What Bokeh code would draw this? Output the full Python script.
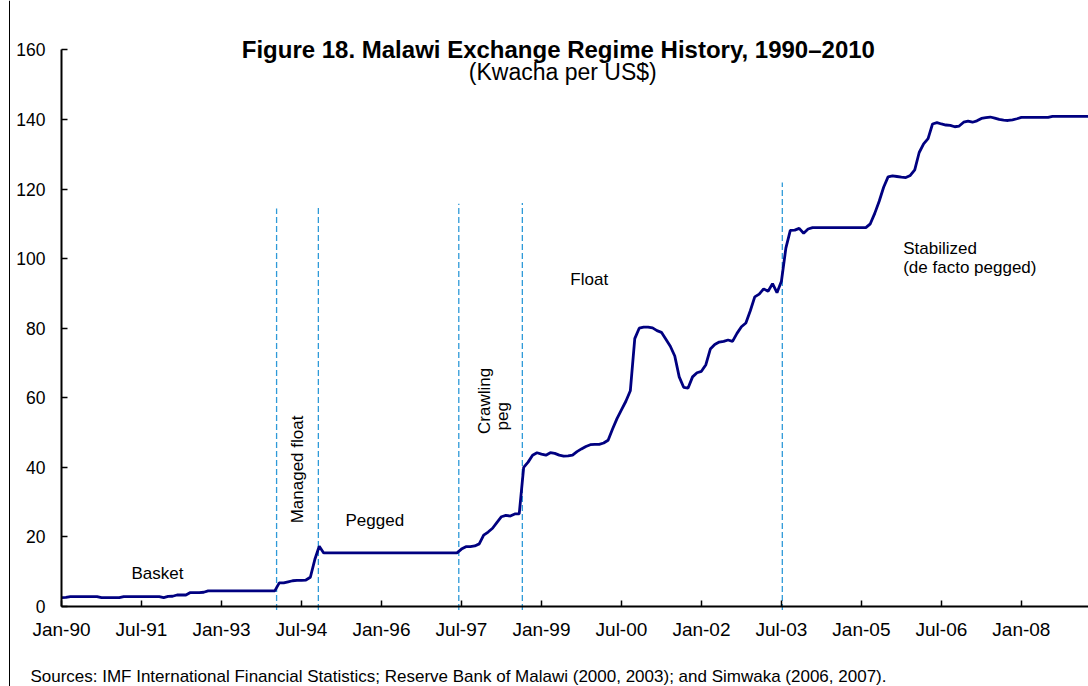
from math import pi
from bokeh.plotting import figure
from bokeh.models import FixedTicker, Label, Range1d, Span
from bokeh.embed import file_html
from bokeh.resources import INLINE

# Monthly Kwacha per US$, Jan-1990 onwards
rate_1990 = [2.55, 2.6, 2.85, 2.85, 2.85, 2.85, 2.85, 2.85, 2.85, 2.55, 2.55, 2.55]
rate_1991 = [2.55, 2.55, 2.85, 2.85, 2.85, 2.85, 2.85, 2.85, 2.85, 2.85, 2.85, 2.55]
rate_1992 = [2.9, 2.95, 3.3, 3.3, 3.3, 4.0, 4.0, 4.0, 4.1, 4.5, 4.5, 4.5]
rate_1993 = [4.5, 4.5, 4.5, 4.5, 4.5, 4.5, 4.5, 4.5, 4.5, 4.5, 4.5, 4.5]
rate_1994 = [4.5, 6.8, 6.8, 7.1, 7.4, 7.5, 7.5, 7.6, 8.4, 13.5, 17.3, 15.4]
rate_1995 = [15.4, 15.4, 15.4, 15.4, 15.4, 15.4, 15.4, 15.4, 15.4, 15.4, 15.4, 15.4]
rate_1996 = [15.4, 15.4, 15.4, 15.4, 15.4, 15.4, 15.4, 15.4, 15.4, 15.4, 15.4, 15.4]
rate_1997 = [15.4, 15.4, 15.4, 15.4, 15.4, 15.4, 16.5, 17.2, 17.2, 17.4, 18.0, 20.5]
rate_1998 = [21.4, 22.5, 24.2, 25.8, 26.2, 26.0, 26.6, 26.6, 40.0, 41.5, 43.5, 44.2]
rate_1999 = [43.8, 43.5, 44.2, 44.0, 43.5, 43.2, 43.3, 43.5, 44.5, 45.3, 46.0, 46.5]
rate_2000 = [46.6, 46.6, 47.0, 47.8, 51.0, 54.0, 56.5, 59.0, 62.0, 77.0, 80.0, 80.3]
rate_2001 = [80.3, 80.1, 79.3, 78.8, 76.8, 74.8, 72.0, 66.0, 63.0, 62.8, 66.0, 67.2]
rate_2002 = [67.6, 69.5, 74.0, 75.3, 76.0, 76.2, 76.6, 76.2, 78.5, 80.4, 81.5, 85.0]
rate_2003 = [89.0, 89.8, 91.3, 90.6, 92.8, 90.2, 93.5, 103.0, 108.1, 108.2, 108.7, 107.3]
rate_2004 = [108.5, 108.9, 108.9, 108.9, 108.9, 108.9, 108.9, 108.9, 108.9, 108.9, 108.9, 108.9]
rate_2005 = [108.9, 108.9, 110.0, 113.0, 116.5, 120.5, 123.5, 123.8, 123.6, 123.4, 123.3, 123.9]
rate_2006 = [125.5, 130.5, 133.0, 134.5, 138.7, 139.1, 138.7, 138.4, 138.3, 137.9, 138.1, 139.2]
rate_2007 = [139.5, 139.2, 139.6, 140.3, 140.5, 140.7, 140.4, 140.0, 139.8, 139.7, 139.9, 140.2]
rate_2008 = [140.6, 140.6, 140.6, 140.6, 140.6, 140.6, 140.6, 140.9, 140.9, 140.9, 140.9, 140.9]
rate_2009 = [140.9, 140.9, 140.9, 140.9]

rates = (rate_1990 + rate_1991 + rate_1992 + rate_1993 + rate_1994 + rate_1995 +
         rate_1996 + rate_1997 + rate_1998 + rate_1999 + rate_2000 + rate_2001 +
         rate_2002 + rate_2003 + rate_2004 + rate_2005 + rate_2006 + rate_2007 +
         rate_2008 + rate_2009)
months = list(range(len(rates)))  # months since Jan-1990

# Regime boundaries (months since Jan-1990) and top of each dashed marker
regime_breaks = [48.4, 57.8, 89.4, 103.7, 162.2]
regime_tops = [114.4, 114.6, 115.8, 116.0, 121.9]

tick_months = [0, 18, 36, 54, 72, 90, 108, 126, 144, 162, 180, 198, 216]
tick_labels = ["Jan-90", "Jul-91", "Jan-93", "Jul-94", "Jan-96", "Jul-97", "Jan-99",
               "Jul-00", "Jan-02", "Jul-03", "Jan-05", "Jul-06", "Jan-08"]
y_ticks = [0, 20, 40, 60, 80, 100, 120, 140, 160]

FONT = "Liberation Sans"

# frame covers the whole canvas; axes are pinned at x=0 / y=0
p = figure(width=1088, height=686, output_backend="svg", toolbar_location=None,
           x_range=Range1d(-13.726, 231.1), y_range=Range1d(-22.995, 174.19),
           min_border_left=0, min_border_right=0, min_border_top=0,
           min_border_bottom=0)
p.outline_line_color = None
p.grid.visible = False
p.background_fill_color = "white"
p.border_fill_color = "white"

for ax in (p.xaxis[0], p.yaxis[0]):
    ax.fixed_location = 0
    ax.axis_line_width = 2
    ax.axis_line_color = "black"
    ax.major_tick_in = 6
    ax.major_tick_out = 0
    ax.major_tick_line_width = 1.5
    ax.major_tick_line_color = "black"
    ax.minor_tick_line_color = None
    ax.major_label_text_font = FONT
    ax.major_label_text_color = "black"

p.xaxis.ticker = FixedTicker(ticks=tick_months)
p.xaxis.major_label_overrides = {m: l for m, l in zip(tick_months, tick_labels)}
p.xaxis.major_label_standoff = 12
p.xaxis.major_label_text_font_size = "19px"
p.xaxis.bounds = (0, 231.1)
p.yaxis.ticker = FixedTicker(ticks=y_ticks)
p.yaxis.major_label_standoff = 16
p.yaxis.major_label_text_font_size = "17.5px"
p.yaxis.bounds = (0, 160)

# left frame border of the figure box
p.add_layout(Span(location=-11.7, dimension="height", line_color="black", line_width=1))

p.segment(x0=regime_breaks, y0=[-1.0] * len(regime_breaks), x1=regime_breaks, y1=regime_tops,
          line_color="#2E9AD8", line_width=1.3, line_dash="6 3")
p.line(months, rates, line_color="#000080", line_width=2.8)


def lab(x, y, text, size="17px", style="normal", align="left", angle=0.0):
    p.add_layout(Label(x=x, y=y, text=text, text_font=FONT, text_font_size=size,
                       text_font_style=style, text_align=align,
                       text_baseline="alphabetic", angle=angle, text_color="black"))


lab(111.8, 160.0, "Figure 18. Malawi Exchange Regime History, 1990\u20132010",
    size="24px", style="bold", align="center")
lab(112.8, 153.5, "(Kwacha per US$)", size="23px", align="center")
lab(15.75, 9.4, "Basket")
lab(63.9, 24.7, "Pegged")
lab(114.5, 93.9, "Float")
lab(189.4, 102.8, "Stabilized")
lab(189.4, 97.5, "(de facto pegged)")
lab(53.1, 23.9, "Managed float", angle=pi / 2)
lab(95.2, 49.6, "Crawling", angle=pi / 2)
lab(99.2, 50.6, "peg", angle=pi / 2)
lab(-7.0, -20.1, "Sources:  IMF International Financial Statistics; Reserve Bank of Malawi "
    "(2000, 2003); and Simwaka (2006, 2007).", size="17px")

open("out.html", "w").write(file_html(p, INLINE))
